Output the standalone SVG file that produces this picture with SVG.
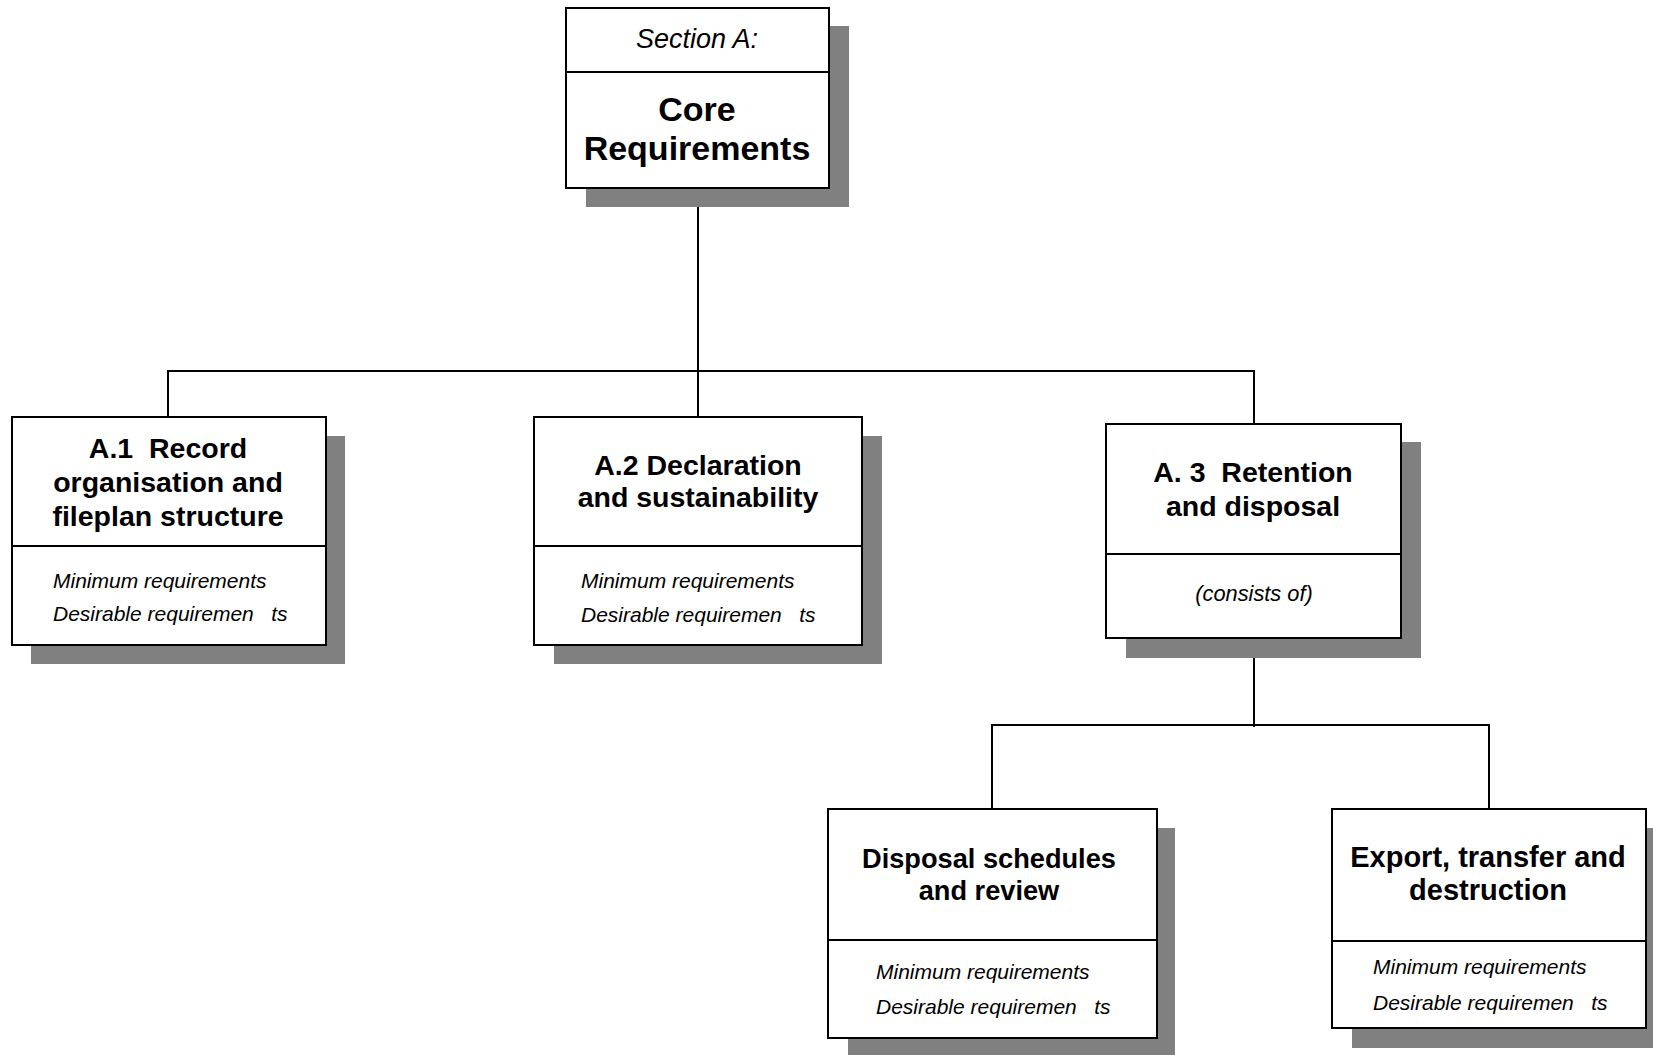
<svg xmlns="http://www.w3.org/2000/svg" width="1653" height="1055" viewBox="0 0 1653 1055">
<style>
.shadow{fill:#808080;stroke:none}
.box{fill:#fff;stroke:#000;stroke-width:2}
.div{stroke:#000;stroke-width:2}
.conn{fill:none;stroke:#000;stroke-width:2}
.t{font-family:"Liberation Sans",Arial,sans-serif;font-weight:bold;font-size:28.5px;fill:#000;text-anchor:middle;white-space:pre}
.tc{font-family:"Liberation Sans",Arial,sans-serif;font-weight:bold;font-size:34px;fill:#000;text-anchor:middle}
.i{font-family:"Liberation Sans",Arial,sans-serif;font-style:italic;font-size:21px;fill:#000;white-space:pre}
.is{font-family:"Liberation Sans",Arial,sans-serif;font-style:italic;font-size:27px;fill:#000;text-anchor:middle}
.ic{font-family:"Liberation Sans",Arial,sans-serif;font-style:italic;font-size:21.8px;fill:#000;text-anchor:middle}
</style>
<rect width="1653" height="1055" fill="#fff"/>
<g id="connectors">
<path class="conn" d="M698 188 V417 M168 371 H1254 M168 370 V417 M1254 370 V424"/>
<path class="conn" d="M1254 638 V727 M992 725 H1489 M992 724 V809 M1489 724 V809"/>
</g>
<g id="core">
<rect class="shadow" x="586" y="26" width="263" height="181"/>
<rect class="box" x="566" y="8" width="263" height="180"/>
<line class="div" x1="566" y1="72" x2="829" y2="72"/>
<text class="is" x="697" y="48">Section A:</text>
<text class="tc" x="697" y="121">Core</text>
<text class="tc" x="697" y="160">Requirements</text>
</g>
<g id="a1">
<rect class="shadow" x="31" y="436" width="314" height="228"/>
<rect class="box" x="12" y="417" width="314" height="228"/>
<line class="div" x1="12" y1="546" x2="326" y2="546"/>
<text class="t" x="168" y="458" xml:space="preserve">A.1  Record</text>
<text class="t" x="168" y="492">organisation and</text>
<text class="t" x="168" y="526">fileplan structure</text>
<text class="i" x="53" y="588" xml:space="preserve">Minimum requirements</text>
<text class="i" x="53" y="621" xml:space="preserve">Desirable requiremen   ts</text>
</g>
<g id="a2">
<rect class="shadow" x="554" y="436" width="328" height="228"/>
<rect class="box" x="534" y="417" width="328" height="228"/>
<line class="div" x1="534" y1="546" x2="862" y2="546"/>
<text class="t" x="698" y="475">A.2 Declaration</text>
<text class="t" x="698" y="507">and sustainability</text>
<text class="i" x="581" y="588" xml:space="preserve">Minimum requirements</text>
<text class="i" x="581" y="622" xml:space="preserve">Desirable requiremen   ts</text>
</g>
<g id="a3">
<rect class="shadow" x="1126" y="442" width="295" height="216"/>
<rect class="box" x="1106" y="424" width="295" height="214"/>
<line class="div" x1="1106" y1="554" x2="1401" y2="554"/>
<text class="t" x="1253" y="482" xml:space="preserve">A. 3  Retention</text>
<text class="t" x="1253" y="516">and disposal</text>
<text class="ic" x="1254" y="601">(consists of)</text>
</g>
<g id="disposal">
<rect class="shadow" x="848" y="828" width="327" height="230"/>
<rect class="box" x="828" y="809" width="329" height="229"/>
<line class="div" x1="828" y1="940" x2="1157" y2="940"/>
<text class="t" x="989" y="868" style="font-size:27.2px">Disposal schedules</text>
<text class="t" x="989" y="900" style="font-size:27.2px">and review</text>
<text class="i" x="876" y="979" xml:space="preserve">Minimum requirements</text>
<text class="i" x="876" y="1014" xml:space="preserve">Desirable requiremen   ts</text>
</g>
<g id="export">
<rect class="shadow" x="1352" y="828" width="314" height="220"/>
<rect class="box" x="1332" y="809" width="314" height="219"/>
<line class="div" x1="1332" y1="941" x2="1646" y2="941"/>
<text class="t" x="1488" y="867" style="font-size:29px">Export, transfer and</text>
<text class="t" x="1488" y="900" style="font-size:29px">destruction</text>
<text class="i" x="1373" y="974" xml:space="preserve">Minimum requirements</text>
<text class="i" x="1373" y="1010" xml:space="preserve">Desirable requiremen   ts</text>
</g>
</svg>
